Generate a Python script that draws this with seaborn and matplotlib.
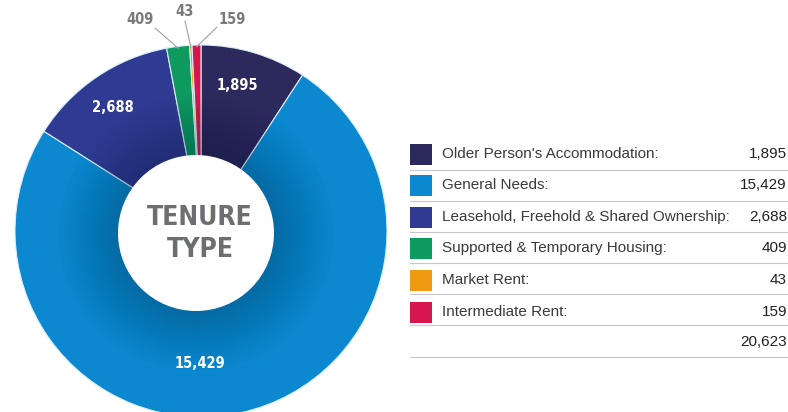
import numpy as np
import matplotlib
matplotlib.use("Agg")
import matplotlib.pyplot as plt
from matplotlib.patches import Circle, Rectangle
import seaborn as sns

# Tenure data
categories = [
    "Older Person's Accommodation:",
    "General Needs:",
    "Leasehold, Freehold & Shared Ownership:",
    "Supported & Temporary Housing:",
    "Market Rent:",
    "Intermediate Rent:",
]
values = [1895, 15429, 2688, 409, 43, 159]
value_labels = ["1,895", "15,429", "2,688", "409", "43", "159"]
colors = ["#2c2a5c", "#0b88cf", "#2f3b92", "#0f9a5f", "#f09a12", "#d8164e"]

sns.set_theme(style="white")
palette = sns.color_palette(colors)
plt.rcParams["font.family"] = ["Liberation Sans", "DejaVu Sans"]

W, H = 788, 412
fig = plt.figure(figsize=(W / 100, H / 100), dpi=100)

# Donut axes, positioned in pixels
cx, cy, R = 201, 231, 186
ax = fig.add_axes([(cx - R) / W, (H - cy - R) / H, 2 * R / W, 2 * R / H])
wedges, _ = ax.pie(
    values, colors=palette, startangle=90, counterclock=False, radius=1.0,
    wedgeprops=dict(linewidth=0.8, edgecolor="#d8eef8"),
)
ax.set_xlim(-1, 1)
ax.set_ylim(-1, 1)
ax.set_aspect("equal")
ax.axis("off")

# Hole with soft shading around it
hx, hy, hr = (196 - cx) / R, (cy - 233) / R, 78 / R
for k in range(14):
    rr = hr + 0.32 * (1 - k / 14)
    ax.add_patch(Circle((hx, hy), rr, color="#04203f", alpha=0.018, lw=0, zorder=3))
ax.add_patch(Circle((hx, hy), hr, color="white", lw=0, zorder=4))

bold_cond = dict(family=["DejaVu Sans"], fontstretch="condensed", fontweight="bold")
ax.text((200 - cx) / R, (cy - 218) / R, "TENURE", ha="center", va="center",
        fontsize=19, color="#6d6e70", zorder=5, **bold_cond)
ax.text((200 - cx) / R, (cy - 250) / R, "TYPE", ha="center", va="center",
        fontsize=19, color="#6d6e70", zorder=5, **bold_cond)

# Labels inside the larger wedges
inside_pos = {0: (237, 85), 1: (200, 363), 2: (113, 107)}
for i, (px, py) in inside_pos.items():
    ax.text((px - cx) / R, (cy - py) / R, value_labels[i], ha="center",
            va="center", fontsize=10.5, color="white", zorder=5, **bold_cond)

# Small wedges: outside labels with leader lines
total = sum(values)
fracs = np.cumsum([0] + values) / total
outside = {3: (140, 20), 4: (185, 12), 5: (232, 20)}
line_start = {3: (155, 28), 4: (185, 21), 5: (217, 27)}
for i, (tx, ty) in outside.items():
    a = np.deg2rad(90 - 360 * (fracs[i] + fracs[i + 1]) / 2)
    ex, ey = 0.99 * np.cos(a), 0.99 * np.sin(a)
    sx, sy = line_start[i]
    ax.plot([(sx - cx) / R, ex], [(cy - sy) / R, ey],
            color="#a0a0a0", lw=0.8, clip_on=False, zorder=5)
    ax.text((tx - cx) / R, (cy - ty) / R, value_labels[i], ha="center",
            va="center", fontsize=10.5, color="#7a7a7a", clip_on=False,
            zorder=6, **bold_cond)

# Legend table in pixel coordinates
lx = fig.add_axes([0, 0, 1, 1])
lx.set_xlim(0, W)
lx.set_ylim(H, 0)
lx.axis("off")
lx.patch.set_alpha(0)

row_y = [154, 185, 217, 248, 280, 312]
line_y = [170, 201, 232, 263, 294, 325, 357]
for i, (name, lab) in enumerate(zip(categories, value_labels)):
    y = row_y[i]
    lx.add_patch(Rectangle((410, y - 10), 22, 21, color=palette[i], lw=0))
    lx.text(442, y, name, ha="left", va="center", fontsize=11, color="#3a3a3a")
    lx.text(787, y, lab, ha="right", va="center", fontsize=11, color="#222222")
lx.text(787, 342, f"{total:,}", ha="right", va="center", fontsize=11, color="#222222")
for y in line_y:
    lx.plot([410, 788], [y, y], color="#c8c8c8", lw=0.8)

fig.savefig("out.png", dpi=100, facecolor="white")
